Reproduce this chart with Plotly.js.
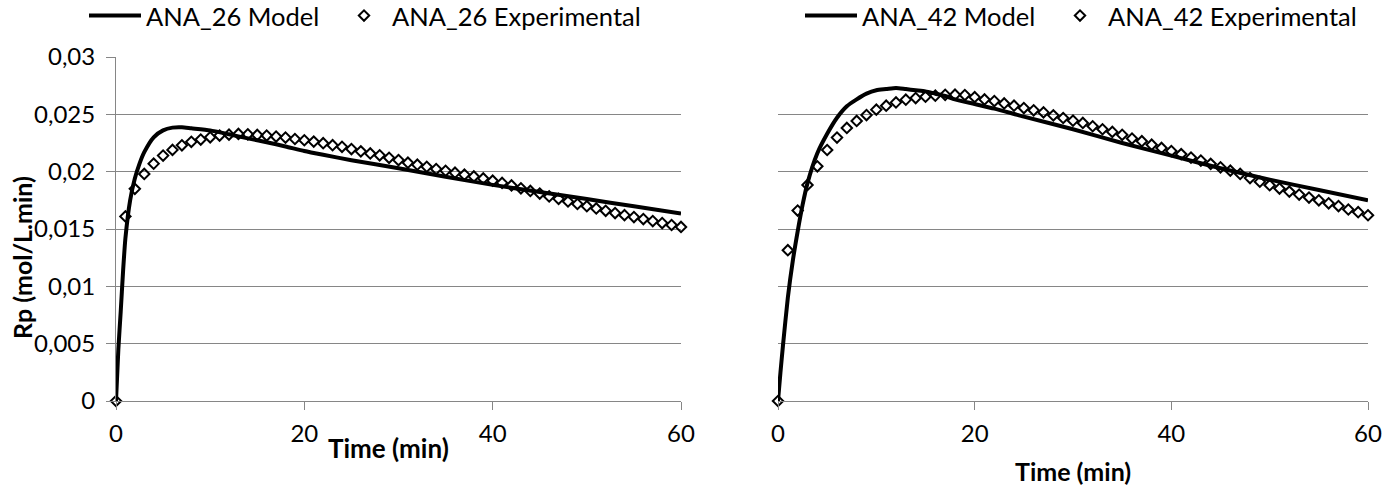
<!DOCTYPE html>
<html><head><meta charset="utf-8">
<script src="https://cdn.plot.ly/plotly-3.0.1.min.js"></script>
<style>html,body{margin:0;padding:0;background:#fff}#chart{width:1386px;height:488px}</style>
</head><body><div id="chart"></div>
<script>
const expTime = [0,1,2,3,4,5,6,7,8,9,10,11,12,13,14,15,16,17,18,19,20,21,22,23,24,25,26,27,28,29,30,31,32,33,34,35,36,37,38,39,40,41,42,43,44,45,46,47,48,49,50,51,52,53,54,55,56,57,58,59,60];
const exp26 = [0,0.0161,0.0185,0.0198,0.0207,0.0214,0.0219,0.0223,0.0226,0.0228,0.0230,0.02315,0.02323,0.02329,0.02326,0.0232,0.02315,0.02306,0.02297,0.02285,0.02274,0.02262,0.02248,0.02231,0.02217,0.02197,0.02177,0.02159,0.02143,0.02121,0.02101,0.02078,0.02061,0.02043,0.02023,0.02008,0.01991,0.01974,0.01958,0.01941,0.01921,0.01902,0.0188,0.01855,0.01832,0.01809,0.01784,0.01763,0.0174,0.01718,0.01699,0.01679,0.01659,0.01639,0.01621,0.01604,0.01587,0.01569,0.01552,0.01535,0.01518];
const modelTime26 = [0,0.25,0.5,0.75,1,1.5,2,2.5,3,4,5,6,7,8,10,12,14,16,18,20,22,25,30,35,40,45,50,55,60];
const model26 = [0,0.0045,0.0078,0.0113,0.0142,0.0175,0.0194,0.0207,0.0217,0.0230,0.0236,0.02384,0.02387,0.02378,0.0236,0.02326,0.0229,0.02257,0.0222,0.0218,0.02147,0.0210,0.0203,0.01955,0.01885,0.01822,0.01761,0.01698,0.01636];
const exp42 = [0,0.01315,0.01661,0.01884,0.02047,0.02189,0.02297,0.02381,0.02442,0.02494,0.02541,0.02575,0.02604,0.02628,0.02642,0.02654,0.02663,0.0267,0.02671,0.02668,0.0265,0.0263,0.02616,0.02595,0.02575,0.02555,0.02535,0.02517,0.02491,0.02468,0.02445,0.02425,0.02396,0.0237,0.02347,0.02321,0.02289,0.02266,0.02235,0.02207,0.0218,0.02153,0.02123,0.02097,0.02068,0.02038,0.02009,0.0198,0.01944,0.01912,0.01882,0.01853,0.01826,0.018,0.01774,0.0175,0.01724,0.017,0.0167,0.01647,0.0162];
const modelTime42 = [0,0.25,0.5,1,1.5,2,2.5,3,4,5,6,7,8,9,10,11,12,13,14,15,16,17,18,20,22,25,30,35,40,45,50,55,60];
const model42 = [0,0.0025,0.0048,0.009,0.0122,0.0148,0.0171,0.019,0.0216,0.0233,0.0247,0.0257,0.0263,0.0268,0.0271,0.0272,0.0273,0.0272,0.0271,0.027,0.0268,0.0266,0.0263,0.0259,0.0255,0.0248,0.0237,0.0225,0.0214,0.0203,0.0193,0.0184,0.0175];
const names = ['ANA_26 Model','ANA_26 Experimental','ANA_42 Model','ANA_42 Experimental'];
const xTickVals = [0,20,40,60];
const xTickText = ['0','20','40','60'];
const yTickVals = [0,0.005,0.01,0.015,0.02,0.025,0.03];
const yTickText = ['0','0,005','0,01','0,015','0,02','0,025','0,03'];
const xTitle = 'Time (min)';
const yTitle = 'Rp (mol/L.min)';

const FONT = "Lato, 'Open Sans', sans-serif";
const W = 1386, H = 488;
const px = v => v / W, py = v => 1 - v / H;
const grid = '#868686';

const lineStyle = {color: '#000', width: 4, shape: 'spline', smoothing: 0.6};
const markerStyle = {symbol: 'diamond-open', size: 8, color: '#000', line: {width: 2, color: '#000'}};

const traces = [
  {x: modelTime26, y: model26, name: names[0], mode: 'lines', line: lineStyle, xaxis: 'x', yaxis: 'y', legend: 'legend'},
  {x: expTime, y: exp26, name: names[1], mode: 'markers', marker: markerStyle, cliponaxis: false, xaxis: 'x', yaxis: 'y', legend: 'legend2'},
  {x: modelTime42, y: model42, name: names[2], mode: 'lines', line: lineStyle, xaxis: 'x2', yaxis: 'y2', legend: 'legend3'},
  {x: expTime, y: exp42, name: names[3], mode: 'markers', marker: markerStyle, cliponaxis: false, xaxis: 'x2', yaxis: 'y2', legend: 'legend4'}
];

const xCommon = {range: [0, 60], tickvals: xTickVals, ticktext: xTickText, showgrid: false, zeroline: false,
  showline: true, linecolor: grid, linewidth: 1, ticks: 'outside', ticklen: 8, tickcolor: grid, tickwidth: 1,
  ticklabelstandoff: 3, tickfont: {family: FONT, size: 24, color: '#000'}, fixedrange: true, automargin: false};
const yCommon = {range: [0, 0.03], tickvals: yTickVals, ticktext: yTickText, showgrid: true, gridcolor: grid, gridwidth: 1,
  zeroline: false, fixedrange: true, automargin: false, tickfont: {family: FONT, size: 24, color: '#000'}};

const legBase = {orientation: 'h', xref: 'container', yref: 'container', xanchor: 'left', yanchor: 'middle', y: py(16),
  bgcolor: 'rgba(0,0,0,0)', font: {family: FONT, size: 25.5, color: '#000'}};

const layout = {
  width: W, height: H, margin: {l: 0, r: 0, t: 0, b: 0, autoexpand: false}, paper_bgcolor: '#fff', plot_bgcolor: '#fff',
  xaxis: Object.assign({}, xCommon, {domain: [px(116), px(681)], anchor: 'y'}),
  yaxis: Object.assign({}, yCommon, {domain: [1 - 401/H, 1 - 57/H], anchor: 'x', showline: true, linecolor: grid, linewidth: 1,
    ticks: 'outside', ticklen: 9, tickcolor: grid, ticklabelstandoff: 6}),
  xaxis2: Object.assign({}, xCommon, {domain: [px(778), px(1368)], anchor: 'y2'}),
  yaxis2: Object.assign({}, yCommon, {domain: [1 - 401/H, 1 - 57/H], anchor: 'x2', showline: false, showticklabels: false, ticks: ''}),
  legend: Object.assign({}, legBase, {x: px(84), itemwidth: 52}),
  legend2: Object.assign({}, legBase, {x: px(336), itemwidth: 46}),
  legend3: Object.assign({}, legBase, {x: px(800), itemwidth: 52}),
  legend4: Object.assign({}, legBase, {x: px(1052), itemwidth: 46}),
  showlegend: true,
  annotations: [
    {text: '<b>' + xTitle + '</b>', xref: 'paper', yref: 'paper', x: px(388), y: py(448), showarrow: false,
      xanchor: 'center', yanchor: 'middle', font: {family: FONT, size: 26, color: '#000'}},
    {text: '<b>' + xTitle + '</b>', xref: 'paper', yref: 'paper', x: px(1073), y: py(471), showarrow: false,
      xanchor: 'center', yanchor: 'middle', font: {family: FONT, size: 25, color: '#000'}},
    {text: '<b>' + yTitle + '</b>', xref: 'paper', yref: 'paper', x: px(22), y: py(258), showarrow: false, textangle: -90,
      xanchor: 'center', yanchor: 'middle', font: {family: FONT, size: 25, color: '#000'}}
  ]
};

Plotly.newPlot('chart', traces, layout, {staticPlot: true, displayModeBar: false});
</script></body></html>
